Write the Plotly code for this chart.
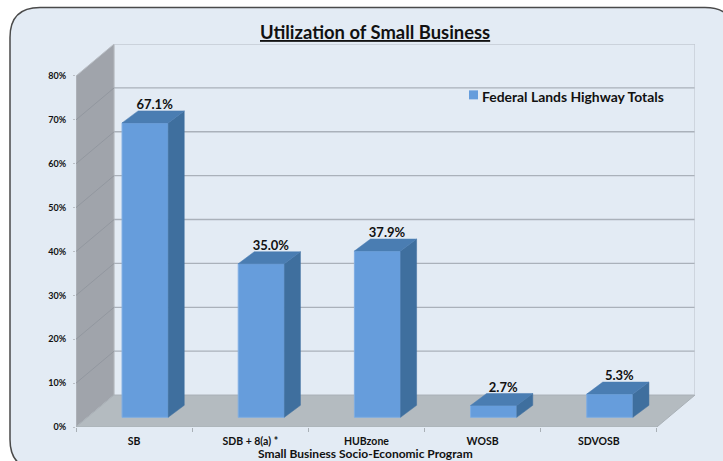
"""Utilization of Small Business: 3D-look column chart built on a flat Plotly axis."""

import plotly.graph_objects as go

FIG_W, FIG_H = 723, 461

categories = ["SB", "SDB + 8(a) *", "HUBzone", "WOSB", "SDVOSB"]
values = [67.1, 35.0, 37.9, 2.7, 5.3]
labels = ["67.1%", "35.0%", "37.9%", "2.7%", "5.3%"]
y_ticks = [0, 10, 20, 30, 40, 50, 60, 70, 80]
y_tick_labels = ["0%", "10%", "20%", "30%", "40%", "50%", "60%", "70%", "80%"]
series_name = "Federal Lands Highway Totals"

FONT = "Lato"
FRONT = "#669ddc"
SIDE = "#3f6f9e"
TOP = "#4a7db2"
PANEL = "#e3ebf4"
WALL = "#a0a4ab"
FLOOR = "#b4bbc0"
GRID = "#aab1ba"
INK = "#111111"

# plot area in pixels: front-left corner (76, 427), back-top-right corner (695, 43)
LEFT, RIGHT, TOP_PX, BOTTOM = 76, 695, 43.5, 427.5
SLOT_PX = (655 - 76) / 5
UNIT_PX = (427.5 - 76) / 80

# depth of the chart box and of a column, in axis units
WALL_DX, WALL_DY = 38 / SLOT_PX, 32 / UNIT_PX
BAR_DX, BAR_DY = 16 / SLOT_PX, 12 / UNIT_PX
BAR_W = 46 / SLOT_PX
BAR_SHIFT = 11 / SLOT_PX
BAR_BASE = 9.7 / UNIT_PX
LABEL_DX, LABEL_DY = 9.5 / SLOT_PX, 17 / UNIT_PX

X0, X1 = -0.5, 4.5
Y1 = 80 + WALL_DY


def px_x(px):
    return (px - LEFT) / (RIGHT - LEFT)


def px_y(py):
    return (BOTTOM - py) / (BOTTOM - TOP_PX)


def poly(xs, ys):
    return "M" + "L".join(f"{x},{y}" for x, y in zip(xs, ys)) + "Z"


shapes = []

# rounded card behind everything, runs off the right and bottom of the page
cl, ct, cr, cb, rad = px_x(10), px_y(7), px_x(735), px_y(470), 30
rx, ry = rad / (RIGHT - LEFT), rad / (BOTTOM - TOP_PX)
shapes.append(
    dict(
        type="path",
        xref="paper",
        yref="paper",
        layer="below",
        path=(
            f"M{cl + rx},{ct}L{cr - rx},{ct}Q{cr},{ct} {cr},{ct - ry}"
            f"L{cr},{cb + ry}Q{cr},{cb} {cr - rx},{cb}L{cl + rx},{cb}"
            f"Q{cl},{cb} {cl},{cb + ry}L{cl},{ct - ry}Q{cl},{ct} {cl + rx},{ct}Z"
        ),
        fillcolor=PANEL,
        line=dict(color="#4a4a4a", width=1.5),
    )
)
# left wall and floor of the box
shapes.append(
    dict(
        type="path",
        layer="below",
        path=poly([X0, X0 + WALL_DX, X0 + WALL_DX, X0], [0, WALL_DY, Y1, 80]),
        fillcolor=WALL,
        line=dict(color="#b9bec5", width=1),
    )
)
shapes.append(
    dict(
        type="path",
        layer="below",
        path=poly([X0, X1, X1 + WALL_DX, X0 + WALL_DX], [0, 0, WALL_DY, WALL_DY]),
        fillcolor=FLOOR,
        line=dict(color="#a9b0b6", width=1),
    )
)
# back wall outline and gridlines, wall diagonals
for v in y_ticks[1:]:
    shapes.append(
        dict(
            type="line",
            layer="below",
            x0=X0 + WALL_DX,
            x1=X1 + WALL_DX,
            y0=v + WALL_DY,
            y1=v + WALL_DY,
            line=dict(color="#c3cad3" if v == 80 else GRID, width=1.3),
        )
    )
    if v < 80:
        shapes.append(
            dict(
                type="line",
                layer="below",
                x0=X0,
                x1=X0 + WALL_DX,
                y0=v,
                y1=v + WALL_DY,
                line=dict(color="#92979f", width=1),
            )
        )
shapes.append(
    dict(
        type="line",
        layer="below",
        x0=X1 + WALL_DX,
        x1=X1 + WALL_DX,
        y0=WALL_DY,
        y1=Y1,
        line=dict(color="#c3cad3", width=1.3),
    )
)
# legend swatch
shapes.append(
    dict(
        type="rect",
        xref="paper",
        yref="paper",
        x0=px_x(469),
        x1=px_x(478),
        y0=px_y(99),
        y1=px_y(90),
        fillcolor=FRONT,
        line=dict(width=0),
    )
)

bar_x = [i + BAR_SHIFT for i in range(len(values))]

fig = go.Figure()
fig.add_trace(
    go.Bar(
        x=bar_x,
        y=values,
        base=BAR_BASE,
        width=BAR_W,
        name=series_name,
        marker=dict(color=FRONT, line=dict(color="#7fade2", width=1)),
    )
)
for cx, v in zip(bar_x, values):
    xl, xr = cx - BAR_W / 2, cx + BAR_W / 2
    y_top = BAR_BASE + v
    # right side of the column
    fig.add_trace(
        go.Scatter(
            x=[xr, xr + BAR_DX, xr + BAR_DX, xr, xr],
            y=[BAR_BASE, BAR_BASE + BAR_DY, y_top + BAR_DY, y_top, BAR_BASE],
            mode="lines",
            fill="toself",
            fillcolor=SIDE,
            line=dict(color=SIDE, width=0.5),
            hoverinfo="skip",
        )
    )
    # top of the column
    fig.add_trace(
        go.Scatter(
            x=[xl, xr, xr + BAR_DX, xl + BAR_DX, xl],
            y=[y_top, y_top, y_top + BAR_DY, y_top + BAR_DY, y_top],
            mode="lines",
            fill="toself",
            fillcolor=TOP,
            line=dict(color=TOP, width=0.5),
            hoverinfo="skip",
        )
    )
fig.add_trace(
    go.Scatter(
        x=[x + LABEL_DX for x in bar_x],
        y=[BAR_BASE + v + LABEL_DY for v in values],
        mode="text",
        text=labels,
        textposition="middle center",
        textfont=dict(family=FONT, size=13, color=INK, weight="bold"),
        hoverinfo="skip",
    )
)


def paper_text(text, x, y, size, xanchor="center", **font):
    return dict(
        text=text,
        xref="paper",
        yref="paper",
        x=px_x(x),
        y=px_y(y),
        xanchor=xanchor,
        yanchor="middle",
        showarrow=False,
        font=dict(family=FONT, size=size, color=INK, weight="bold", **font),
    )


fig.update_layout(
    width=FIG_W,
    height=FIG_H,
    margin=dict(l=LEFT, r=FIG_W - RIGHT, t=TOP_PX, b=FIG_H - BOTTOM, autoexpand=False),
    paper_bgcolor="white",
    plot_bgcolor="rgba(0,0,0,0)",
    shapes=shapes,
    showlegend=False,
    annotations=[
        paper_text("Utilization of Small Business", 375, 31, 18.4, lineposition="under"),
        paper_text(series_name, 480, 96, 13.9, xanchor="left"),
        paper_text("Small Business Socio-Economic Program", 365, 454.5, 12),
    ],
)
fig.update_xaxes(
    range=[X0, X1 + WALL_DX],
    tickmode="array",
    tickvals=list(range(len(categories))),
    ticktext=categories,
    ticks="",
    ticklabelstandoff=6,
    tickfont=dict(family=FONT, size=10.5, color=INK, weight="bold"),
    showgrid=False,
    zeroline=False,
    showline=False,
    minor=dict(
        tickmode="array",
        tickvals=[i - 0.5 for i in range(len(categories) + 1)],
        ticks="outside",
        ticklen=4,
        tickcolor="#a9b0b6",
        showgrid=False,
    ),
)
fig.update_yaxes(
    range=[0, Y1],
    tickmode="array",
    tickvals=y_ticks,
    ticktext=y_tick_labels,
    ticks="outside",
    ticklen=2,
    tickcolor="#b9bec5",
    ticklabelstandoff=5,
    tickfont=dict(family=FONT, size=9, color=INK, weight="bold"),
    showgrid=False,
    zeroline=False,
    showline=False,
)

# the page body has a default 8px margin; drop it so the figure fills the window
fig.write_html(
    "out.html",
    config={"displayModeBar": False},
    post_script="document.body.style.margin='0';document.body.style.overflow='hidden';",
)
